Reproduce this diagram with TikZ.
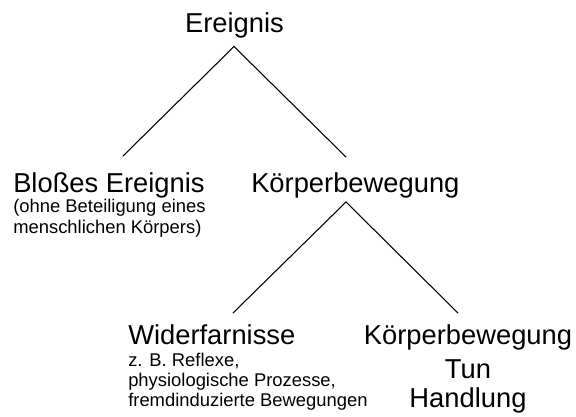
\documentclass[tikz,border=0pt]{standalone}
\usepackage{fontspec}
\setmainfont{Liberation Sans}
\begin{document}
\begin{tikzpicture}[x=0.75pt,y=-0.75pt,
  big/.style={font=\fontsize{20.5}{24}\selectfont, inner sep=0pt},
  small/.style={font=\fontsize{13.8}{16}\selectfont, inner sep=0pt},
  branch/.style={line width=0.8pt, line cap=round}]
\useasboundingbox (0,0) rectangle (576,417);
% labels
\node[big, anchor=base] (ereignis) at (234.5,33) {Ereignis};
\node[big, anchor=base west] (bloss) at (13,193) {Bloßes Ereignis};
\node[small, anchor=base west] (blossA) at (13,213) {(ohne Beteiligung eines};
\node[small, anchor=base west] (blossB) at (13,234) {menschlichen Körpers)};
\node[big, anchor=base west] (koerper) at (251,193) {Körperbewegung};
\node[big, anchor=base west] (wider) at (128,345) {Widerfarnisse};
\node[small, anchor=base west] (widerA) at (128,366.5) {z. B. Reflexe,};
\node[small, anchor=base west] (widerB) at (128,387) {physiologische Prozesse,};
\node[small, anchor=base west] (widerC) at (128,407) {fremdinduzierte Bewegungen};
\node[big, anchor=base] (koerperB) at (468,345) {Körperbewegung};
\node[big, anchor=base] (tun) at (468,379) {Tun};
\node[big, anchor=base] (handlung) at (468,408) {Handlung};
% branch points
\coordinate (ereignis-foot) at (234,46.5);
\coordinate (bloss-top) at (123,156);
\coordinate (koerper-top) at (346,157);
\coordinate (koerper-foot) at (346,202);
\coordinate (wider-top) at (233,313);
\coordinate (koerperB-top) at (458,313);
% connectors
\draw[branch] (bloss-top) -- (ereignis-foot) -- (koerper-top);
\draw[branch] (wider-top) -- (koerper-foot) -- (koerperB-top);
\end{tikzpicture}
\end{document}
